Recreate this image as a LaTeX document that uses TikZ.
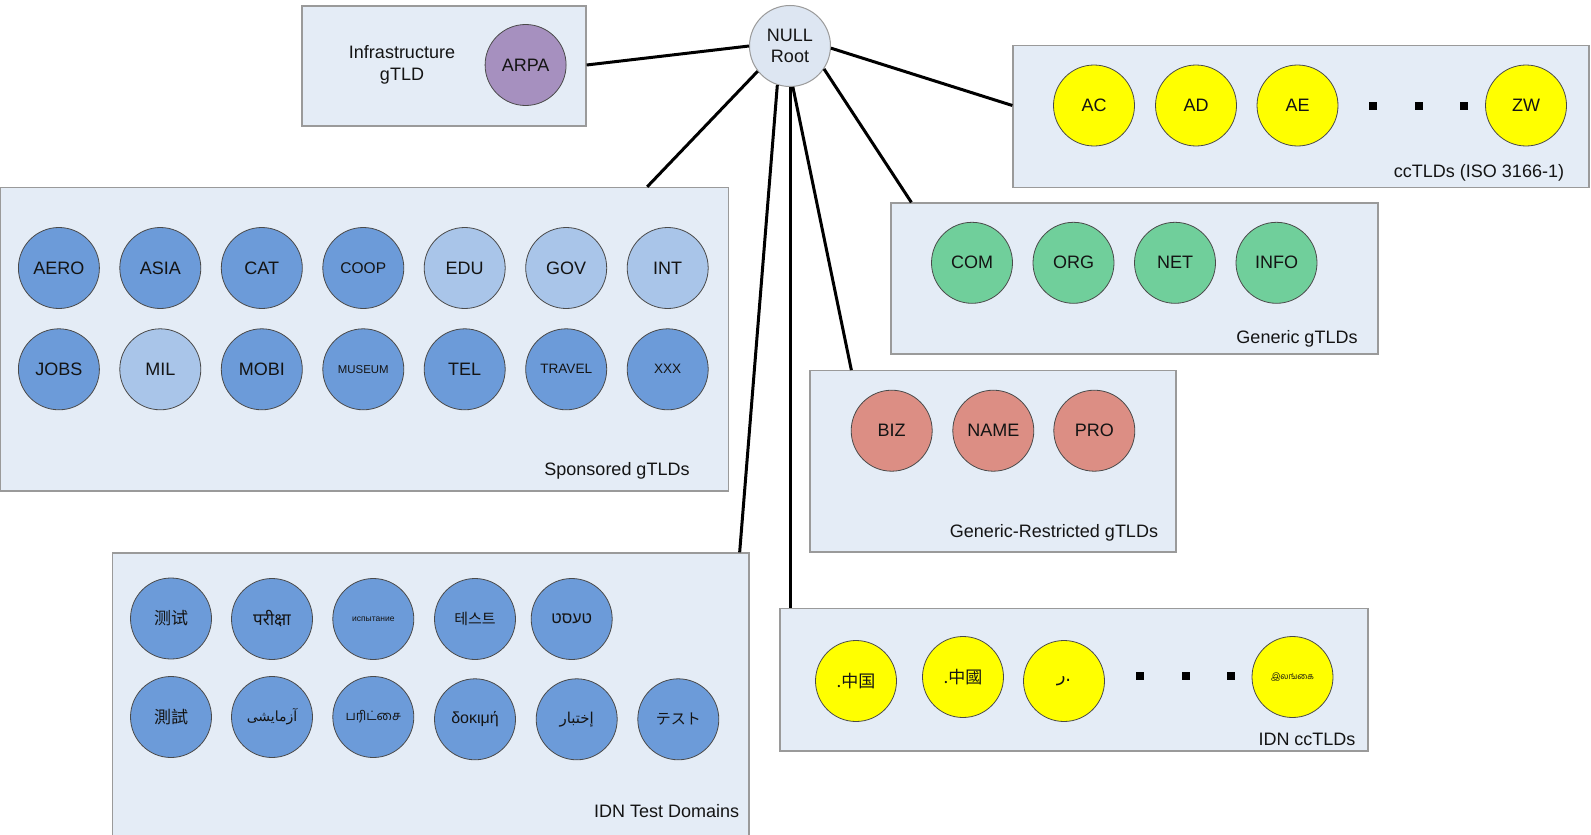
\documentclass[tikz,border=0pt]{standalone}
\usepackage{fontspec}
\setmainfont{Liberation Sans}
\newfontfamily\scfont{Noto Sans CJK SC}
\newfontfamily\tcfont{Noto Sans CJK TC}
\newfontfamily\jpfont{Noto Sans CJK JP}
\newfontfamily\krfont{Noto Sans CJK KR}
\newfontfamily\devafont[Script=Devanagari]{Noto Sans}
\newfontfamily\tamilfont[Script=Tamil]{Hind Madurai}
\newfontfamily\arabicfont[Script=Arabic]{DejaVu Sans}
\newfontfamily\hebfont[Script=Hebrew]{Liberation Sans}
\TeXXeTstate=1
\usetikzlibrary{fit}
\definecolor{boxfill}{HTML}{E4ECF6}
\definecolor{boxdraw}{HTML}{9A9A9A}
\definecolor{rootfill}{HTML}{DDE6F2}
\definecolor{darkblue}{HTML}{6C9BD9}
\definecolor{lightblue}{HTML}{A9C5E9}
\definecolor{arpacol}{HTML}{A690BF}
\definecolor{greencol}{HTML}{70CF9B}
\definecolor{salmon}{HTML}{DC8E84}
\definecolor{yellowcol}{HTML}{FFFF00}
\definecolor{circbord}{HTML}{4A4A4A}
\definecolor{txtcol}{HTML}{141414}
\newcommand\fsz[1]{\fontsize{#1}{#1}\selectfont}
\begin{document}
\begin{tikzpicture}[x=1pt,y=-1pt,
  box/.style={draw=boxdraw,fill=boxfill,line width=1.3pt,inner sep=0pt},
  tld/.style={circle,draw=circbord,line width=0.8pt,minimum size=81pt,inner sep=0pt,text=txtcol,font=\fsz{18}},
  dk/.style={tld,fill=darkblue},
  lt/.style={tld,fill=lightblue},
  yl/.style={tld,fill=yellowcol},
  gr/.style={tld,fill=greencol},
  sl/.style={tld,fill=salmon},
  dotsq/.style={fill=black,minimum size=8pt,inner sep=0pt},
  lbl/.style={font=\fsz{18},text=txtcol,inner sep=0pt},
  conn/.style={line width=3pt,black}]
\useasboundingbox (0,0) rectangle (1591,835);
\fill[white] (0,0) rectangle (1591,835);

% boxes
\node[box,fit={(302,6) (586,126)}] (infra) {};
\node[box,fit={(1013,45.7) (1589,187.7)}] (cc) {};
\node[box,fit={(0,187.5) (728.5,491)}] (spons) {};
\node[box,fit={(891,203) (1378,354)}] (gen) {};
\node[box,fit={(810,370.7) (1176,552)}] (restr) {};
\node[box,fit={(112.6,553) (749,837)}] (idnt) {};
\node[box,fit={(780,608.5) (1368,751)}] (idncc) {};

% root
\node[circle,draw=boxdraw,fill=rootfill,line width=1pt,minimum size=81pt,inner sep=0pt,align=center,font=\fsz{18},text=txtcol] (root) at (790,46) {NULL\\[3pt]Root};

% infrastructure
\node[lbl,align=center] (infralbl) at (402,65) {Infrastructure\\[4pt]gTLD};
\node[tld,fill=arpacol] (arpa) at (525.6,65) {ARPA};

% ccTLDs
\node[yl] (ac) at (1094,105.5) {AC};
\node[yl] (ad) at (1196,105.5) {AD};
\node[yl] (ae) at (1297.5,105.5) {AE};
\node[dotsq] (ccd1) at (1373,105.5) {};
\node[dotsq] (ccd2) at (1418.5,105.5) {};
\node[dotsq] (ccd3) at (1464,105.5) {};
\node[yl] (zw) at (1526,105.5) {ZW};
\node[lbl] (cclbl) at (1479,172.5) {ccTLDs (ISO 3166-1)};

% sponsored
\node[dk] (aero) at (58.9,268) {AERO};
\node[dk] (asia) at (160.3,268) {ASIA};
\node[dk] (cat) at (261.8,268) {CAT};
\node[dk,font=\fsz{15.5}] (coop) at (363.3,268) {COOP};
\node[lt] (edu) at (464.7,268) {EDU};
\node[lt] (gov) at (566.2,268) {GOV};
\node[lt] (int) at (667.7,268) {INT};
\node[dk] (jobs) at (58.9,369.3) {JOBS};
\node[lt] (mil) at (160.3,369.3) {MIL};
\node[dk] (mobi) at (261.8,369.3) {MOBI};
\node[dk,font=\fsz{11.4}] (museum) at (363.3,369.3) {MUSEUM};
\node[dk] (tel) at (464.7,369.3) {TEL};
\node[dk,font=\fsz{13.6}] (travel) at (566.2,369.3) {TRAVEL};
\node[dk,font=\fsz{13.6}] (xxx) at (667.7,369.3) {XXX};
\node[lbl] (sponslbl) at (617,471) {Sponsored gTLDs};

% generic
\node[gr] (com) at (972,262.8) {COM};
\node[gr] (org) at (1073.5,262.8) {ORG};
\node[gr] (net) at (1175,262.8) {NET};
\node[gr] (info) at (1276.5,262.8) {INFO};
\node[lbl] (genlbl) at (1297,339) {Generic gTLDs};

% generic-restricted
\node[sl] (biz) at (891.7,430.7) {BIZ};
\node[sl] (name) at (993.3,430.7) {NAME};
\node[sl] (pro) at (1094.3,430.7) {PRO};
\node[lbl] (restrlbl) at (1054,532.7) {Generic-Restricted gTLDs};

% IDN test
\node[dk,font=\fsz{17}\scfont] (t1) at (171,618.5) {测试};
\node[dk,font=\fsz{17}\devafont] (t2) at (272,619) {परीक्षा};
\node[dk,font=\fsz{8.5}] (t3) at (373.3,619) {испытание};
\node[dk,font=\fsz{15}\krfont] (t4) at (475,619) {테스트};
\node[dk,font=\fsz{16}\hebfont] (t5) at (571.7,619) {\beginR טעסט\endR};
\node[dk,font=\fsz{17}\tcfont] (t6) at (171,717) {測試};
\node[dk,font=\fsz{14}\arabicfont] (t7) at (272,717) {\beginR آزمایشی\endR};
\node[dk,font=\fsz{13}\tamilfont] (t8) at (373.3,717) {பரிட்சை};
\node[dk,font=\fsz{16}] (t9) at (475,719.3) {δοκιμή};
\node[dk,font=\fsz{15}\arabicfont] (t10) at (576.7,719.3) {\beginR إختبار\endR};
\node[dk,font=\fsz{15}\jpfont] (t11) at (678.3,719.3) {テスト};
\node[lbl] (idntlbl) at (666.6,810.7) {IDN Test Domains};

% IDN ccTLDs
\node[yl,font=\fsz{17}\scfont] (i1) at (856,681) {.中国};
\node[yl,font=\fsz{17}\tcfont] (i2) at (963,677) {.中國};
\node[yl,font=\fsz{18}\arabicfont] (i3) at (1064,681) {\beginR .ر\endR};
\node[dotsq] (id1) at (1140,676) {};
\node[dotsq] (id2) at (1185.5,676) {};
\node[dotsq] (id3) at (1231,676) {};
\node[yl,font=\fsz{8.5}\tamilfont] (i4) at (1292.5,677) {இலங்கை};
\node[lbl] (idncclbl) at (1307,739.7) {IDN ccTLDs};

% connectors
\draw[conn] (root.180) -- (infra.east |- arpa);
\draw[conn] (root.-3) -- (cc.west |- ac);
\draw[conn] (root.218) -- ([xshift=-82pt]spons.north east);
\draw[conn] (root.252) -- ([xshift=-10pt]idnt.north east);
\draw[conn] (root.south) -- (root.south |- idncc.north);
\draw[conn] (root.274) -- ([xshift=42pt]restr.north west);
\draw[conn] (root.-34) -- ([xshift=21pt]gen.north west);
\end{tikzpicture}
\end{document}
